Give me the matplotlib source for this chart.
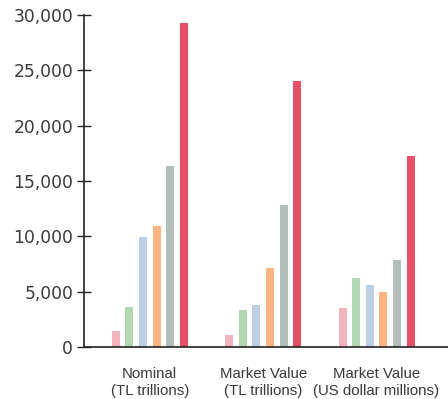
import matplotlib
matplotlib.use("Agg")
import matplotlib.pyplot as plt
import numpy as np

categories = ["Nominal\n(TL trillions)", "Market Value\n(TL trillions)", "Market Value\n(US dollar millions)"]
series_colors = ["#F2B3BE", "#B2D8B3", "#BCCFE4", "#FFB482", "#B3BEBA", "#E45066"]
series_values = [
    [1450, 1090, 3540],
    [3620, 3350, 6250],
    [9970, 3810, 5620],
    [10970, 7160, 4990],
    [16410, 12870, 7890],
    [29300, 24050, 17250],
]
y_ticks = [0, 5000, 10000, 15000, 20000, 25000, 30000]

fig = plt.figure(figsize=(4.48, 3.99), dpi=100)
ax = fig.add_axes([0.1875, 0.130, 0.8125, 0.832])

x = np.arange(len(categories))
step = 0.12
width = 0.071
n = len(series_values)
for i, (vals, col) in enumerate(zip(series_values, series_colors)):
    ax.bar(x + (i - (n - 1) / 2) * step, vals, width=width, color=col, linewidth=0)

ax.set_xlim(-0.58, 2.63)
ax.set_ylim(0, 30000)
ax.set_yticks(y_ticks)
ax.set_yticklabels([f"{v:,}" for v in y_ticks])
ax.set_xticks(x)
ax.set_xticklabels(categories, fontsize=10.8, color="#3a3a3a", linespacing=1.3,
                   family=["Liberation Sans", "DejaVu Sans"])

for side in ["top", "right"]:
    ax.spines[side].set_visible(False)
for side in ["left", "bottom"]:
    ax.spines[side].set_color("#222222")
    ax.spines[side].set_linewidth(1.2)

ax.tick_params(axis="y", direction="inout", length=9.5, width=1, color="#222222",
               labelsize=12.3, labelcolor="#3a3a3a", pad=3)
ax.tick_params(axis="x", length=0, pad=14)

fig.savefig("out.png", dpi=100)
